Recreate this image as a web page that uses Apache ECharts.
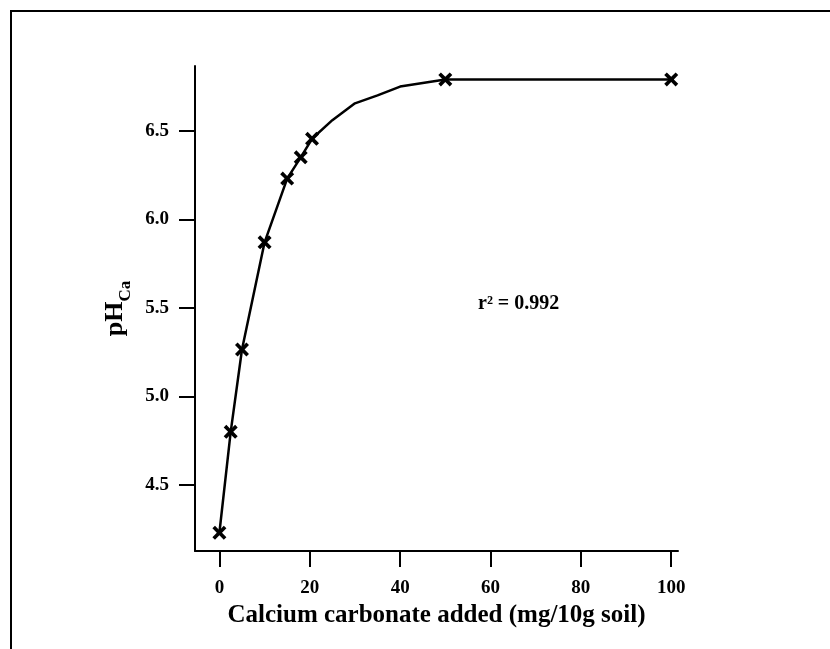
<!DOCTYPE html>
<html>
<head>
<meta charset="utf-8">
<script src="https://cdn.jsdelivr.net/npm/echarts@6/dist/echarts.min.js"></script>
<style>
html,body{margin:0;padding:0;background:#fff;}
#chart{width:830px;height:649px;}
</style>
</head>
<body>
<div id="chart"></div>
<script>
// Measured points (CaCO3 added, pHCa)
const xAdded = [0, 2.5, 5, 10, 15, 18, 20.5, 50, 100];
const phMeasured = [4.23, 4.80, 5.265, 5.87, 6.23, 6.35, 6.455, 6.79, 6.79];
// Fitted curve points
const xFit = [0, 2.5, 5, 10, 15, 18, 20.5, 25, 30, 35, 40, 50, 100];
const phFit = [4.23, 4.80, 5.265, 5.87, 6.23, 6.35, 6.455, 6.56, 6.655, 6.70, 6.75, 6.79, 6.79];
const xTicks = [0, 20, 40, 60, 80, 100];
const yTicks = [4.5, 5.0, 5.5, 6.0, 6.5];
const r2Text = 'r\u00B2 = 0.992';

const font = '"Liberation Serif", "Times New Roman", serif';
const chart = echarts.init(document.getElementById('chart'), null, {renderer: 'canvas'});
const xSym = 'path://M0,2.6L2.6,0L7,4.4L11.4,0L14,2.6L9.6,7L14,11.4L11.4,14L7,9.6L2.6,14L0,11.4L4.4,7Z';

chart.setOption({
  animation: false,
  backgroundColor: '#fff',
  grid: {left: 195, right: 152, top: 66, bottom: 98, containLabel: false},
  xAxis: {
    type: 'value',
    min: -5.4, max: 101.5,
    axisLine: {show: true, onZero: false, lineStyle: {color: '#000', width: 2}},
    axisTick: {show: true, length: 16, lineStyle: {color: '#000', width: 2}, customValues: xTicks},
    axisLabel: {customValues: xTicks, color: '#000', fontFamily: font, fontWeight: 'bold', fontSize: 19, margin: 28},
    splitLine: {show: false},
    name: 'Calcium carbonate added (mg/10g soil)',
    nameLocation: 'middle', nameGap: 52,
    nameTextStyle: {color: '#000', fontFamily: font, fontWeight: 'bold', fontSize: 25}
  },
  yAxis: {
    type: 'value',
    min: 4.127, max: 6.866,
    axisLine: {show: true, onZero: false, lineStyle: {color: '#000', width: 2}},
    axisTick: {show: true, length: 16, lineStyle: {color: '#000', width: 2}, customValues: yTicks},
    axisLabel: {customValues: yTicks, color: '#000', fontFamily: font, fontWeight: 'bold', fontSize: 19, margin: 26,
      formatter: v => v.toFixed(1)},
    splitLine: {show: false},
    name: '{a|pH}{b|Ca}',
    nameLocation: 'middle', nameGap: 64, nameRotate: 90,
    nameTextStyle: {
      color: '#000', fontFamily: font, fontWeight: 'bold',
      rich: {
        a: {fontFamily: font, fontWeight: 'bold', fontSize: 26, color: '#000', verticalAlign: 'bottom'},
        b: {fontFamily: font, fontWeight: 'bold', fontSize: 17, color: '#000', verticalAlign: 'bottom', padding: [0,0,-6,0]}
      }
    }
  },
  series: [
    {
      type: 'line',
      data: xFit.map((x, i) => [x, phFit[i]]),
      showSymbol: false, symbol: 'none', smooth: false,
      lineStyle: {color: '#000', width: 2.5},
      z: 2
    },
    {
      type: 'scatter',
      data: xAdded.map((x, i) => [x, phMeasured[i]]),
      symbol: xSym, symbolSize: 14,
      itemStyle: {color: '#000', opacity: 1},
      z: 3
    }
  ],
  graphic: [
    {type: 'line', shape: {x1: 10, y1: 11, x2: 830, y2: 11}, style: {stroke: '#000', lineWidth: 2}},
    {type: 'line', shape: {x1: 11, y1: 10, x2: 11, y2: 649}, style: {stroke: '#000', lineWidth: 2}},
    {type: 'text', left: 478, top: 294, style: {text: r2Text, font: 'bold 20px ' + font, fill: '#000'}}
  ]
});
</script>
</body>
</html>
